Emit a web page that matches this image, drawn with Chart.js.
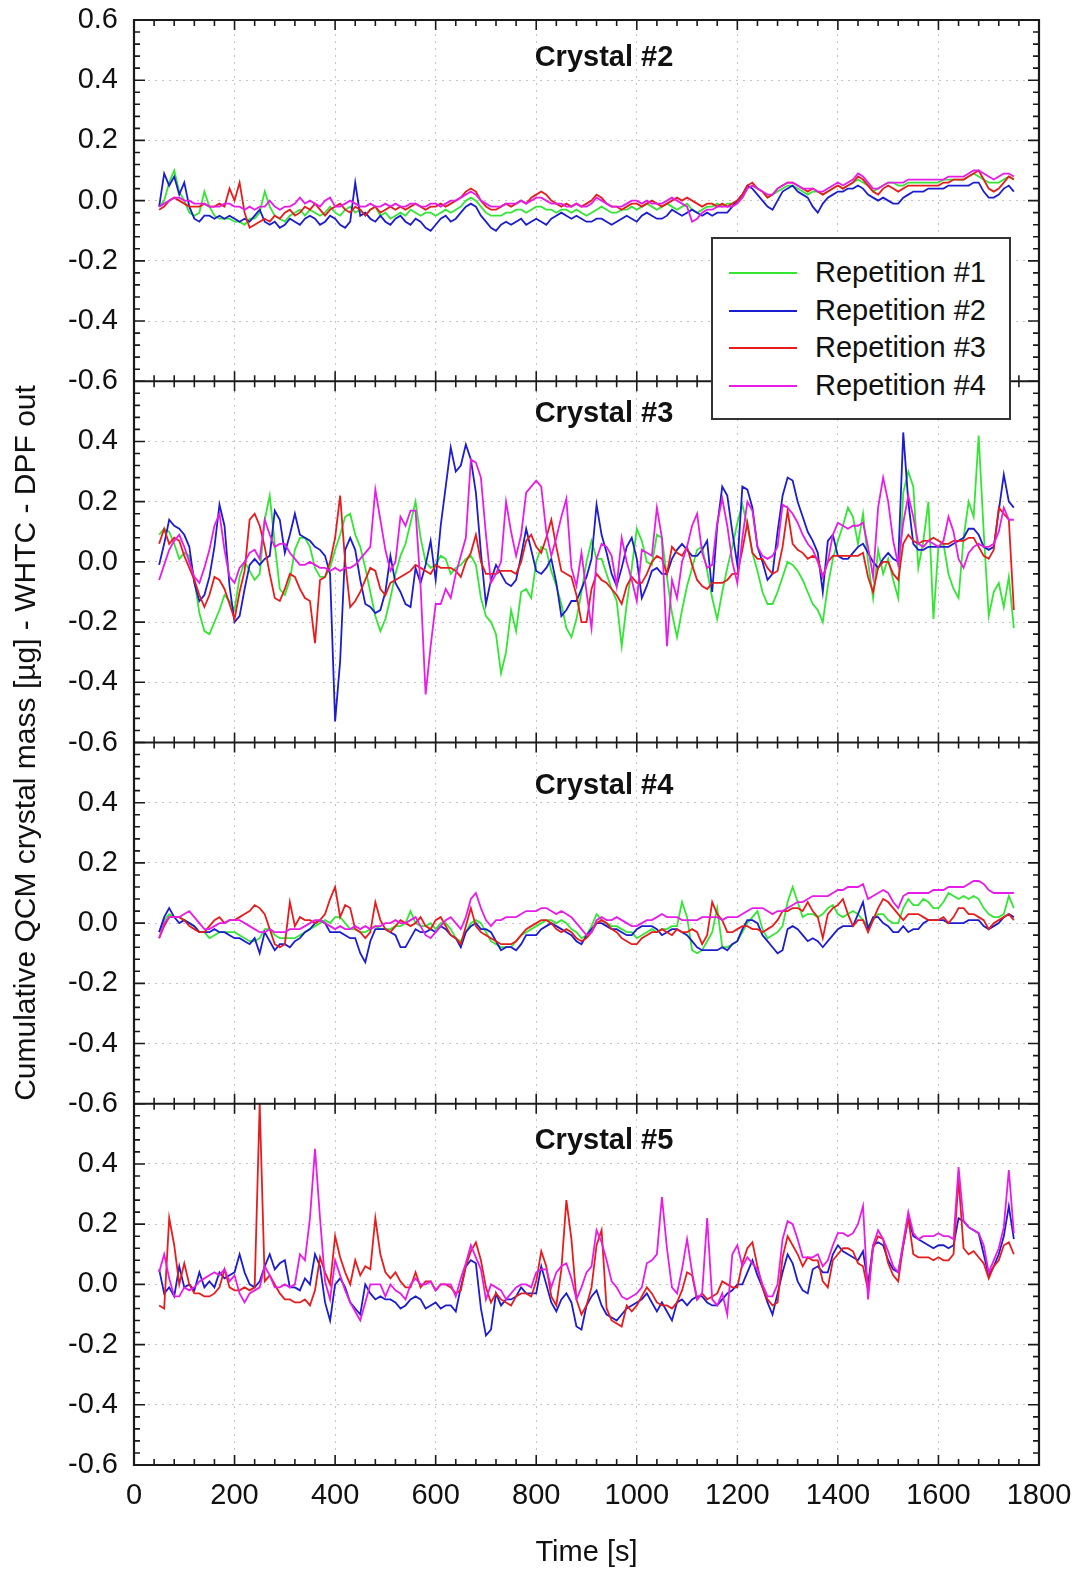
<!DOCTYPE html>
<html>
<head>
<meta charset="utf-8">
<title>Cumulative QCM crystal mass - WHTC - DPF out</title>
<script src="https://cdn.jsdelivr.net/npm/chart.js@4.4.0/dist/chart.umd.min.js"></script>
<style>
  html, body { margin:0; padding:0; background:#fff; }
  #wrap { position:relative; width:1080px; height:1574px; font-family:'Liberation Sans', Arial, sans-serif; color:#111; }
  #chart { position:absolute; left:0; top:0; }
  #ytitle { position:absolute; left:-475px; top:726px; width:1000px; height:34px; line-height:34px;
            text-align:center; font-size:30px; white-space:nowrap; transform:rotate(-90deg); }
  #legend { position:absolute; left:711px; top:237px; width:300px; height:183px; box-sizing:border-box;
            border:2px solid #333; background:#fff; padding-top:15px; }
  .row { position:relative; height:37.5px; }
  .row .swatch { position:absolute; left:16px; top:18px; width:68px; height:2px; }
  .row .lab { position:absolute; left:102px; top:0; line-height:37.5px; font-size:29px; white-space:nowrap; }
</style>
</head>
<body>
<div id="wrap">
  <canvas id="chart" width="1080" height="1574"></canvas>
  <div id="ytitle">Cumulative QCM crystal mass [µg] - WHTC - DPF out</div>
  <div id="legend"></div>
</div>
<script>
// time axis [s]
const T = [
  50,60,70,80,90,100,110,120,130,140,150,160,170,180,190,200,210,220,230,240,
  250,260,270,280,290,300,310,320,330,340,350,360,370,380,390,400,410,420,430,440,
  450,460,470,480,490,500,510,520,530,540,550,560,570,580,590,600,610,620,630,640,
  650,660,670,680,690,700,710,720,730,740,750,760,770,780,790,800,810,820,830,840,
  850,860,870,880,890,900,910,920,930,940,950,960,970,980,990,1000,1010,1020,1030,1040,
  1050,1060,1070,1080,1090,1100,1110,1120,1130,1140,1150,1160,1170,1180,1190,1200,1210,1220,1230,1240,
  1250,1260,1270,1280,1290,1300,1310,1320,1330,1340,1350,1360,1370,1380,1390,1400,1410,1420,1430,1440,
  1450,1460,1470,1480,1490,1500,1510,1520,1530,1540,1550,1560,1570,1580,1590,1600,1610,1620,1630,1640,
  1650,1660,1670,1680,1690,1700,1710,1720,1730,1740,1750
];

const SERIES_NAMES = ['Repetition #1', 'Repetition #2', 'Repetition #3', 'Repetition #4'];
const SERIES_COLORS = ['#33e633', '#1c1cd0', '#e81c1c', '#e81ce8'];
const PANEL_TITLES = ['Crystal #2', 'Crystal #3', 'Crystal #4', 'Crystal #5'];

// Crystal #2
const G2 = [
  -0.02,0.00,0.06,0.10,0.03,0.00,-0.04,-0.05,-0.04,0.03,-0.02,-0.05,-0.06,-0.06,-0.06,-0.07,-0.07,-0.08,-0.06,-0.06,
  -0.04,0.03,-0.02,-0.05,-0.06,-0.07,-0.05,-0.04,-0.03,-0.05,-0.03,-0.04,-0.05,-0.04,-0.02,-0.04,-0.05,-0.03,-0.02,-0.04,
  -0.03,-0.05,-0.03,-0.02,-0.05,-0.04,-0.06,-0.05,-0.04,-0.05,-0.03,-0.04,-0.05,-0.04,-0.04,-0.05,-0.04,-0.03,-0.04,-0.03,
  -0.02,0.00,0.01,0.00,-0.02,-0.04,-0.05,-0.05,-0.05,-0.04,-0.04,-0.03,-0.03,-0.04,-0.03,-0.02,-0.02,-0.03,-0.03,-0.04,
  -0.03,-0.03,-0.04,-0.03,-0.04,-0.05,-0.04,-0.03,-0.02,-0.03,-0.04,-0.04,-0.03,-0.03,-0.02,-0.03,-0.02,-0.01,-0.02,-0.03,
  -0.02,-0.01,-0.02,-0.03,-0.02,-0.01,-0.03,-0.04,-0.03,-0.02,-0.02,-0.01,-0.02,-0.01,-0.01,0.00,0.01,0.04,0.05,0.04,
  0.03,0.01,0.02,0.03,0.04,0.05,0.05,0.04,0.03,0.02,0.03,0.03,0.02,0.03,0.04,0.05,0.04,0.05,0.06,0.07,
  0.06,0.05,0.03,0.04,0.05,0.06,0.06,0.05,0.05,0.06,0.06,0.06,0.06,0.06,0.06,0.06,0.07,0.07,0.07,0.07,
  0.07,0.08,0.09,0.08,0.07,0.06,0.06,0.06,0.07,0.08,0.07
];
const B2 = [
  -0.02,0.09,0.05,0.08,0.02,0.06,-0.02,-0.06,-0.07,-0.05,-0.05,-0.06,-0.05,-0.06,-0.05,-0.06,-0.07,-0.06,-0.07,-0.05,
  -0.03,-0.07,-0.08,-0.07,-0.09,-0.08,-0.06,-0.07,-0.08,-0.06,-0.05,-0.06,-0.08,-0.07,-0.05,-0.06,-0.08,-0.09,-0.07,0.06,
  -0.05,-0.04,-0.06,-0.07,-0.05,-0.07,-0.08,-0.06,-0.05,-0.07,-0.08,-0.06,-0.07,-0.09,-0.10,-0.08,-0.06,-0.05,-0.07,-0.06,
  -0.04,-0.02,-0.01,-0.02,-0.05,-0.07,-0.09,-0.10,-0.08,-0.07,-0.08,-0.07,-0.06,-0.08,-0.07,-0.06,-0.07,-0.08,-0.06,-0.05,
  -0.04,-0.05,-0.06,-0.05,-0.06,-0.07,-0.07,-0.06,-0.06,-0.07,-0.08,-0.07,-0.06,-0.05,-0.06,-0.07,-0.05,-0.04,-0.05,-0.06,
  -0.06,-0.05,-0.03,-0.04,-0.05,-0.04,-0.03,-0.04,-0.05,-0.04,-0.05,-0.04,-0.04,-0.04,-0.02,0.00,0.02,0.05,0.04,0.02,
  0.00,-0.02,-0.03,0.00,0.03,0.04,0.05,0.03,0.02,0.01,-0.02,-0.04,-0.01,0.01,0.02,0.03,0.03,0.04,0.04,0.05,
  0.04,0.02,0.01,0.00,0.01,0.00,-0.01,-0.01,0.01,0.02,0.03,0.03,0.03,0.04,0.04,0.04,0.04,0.05,0.05,0.05,
  0.05,0.05,0.06,0.06,0.03,0.01,0.01,0.02,0.04,0.05,0.03
];
const R2 = [
  -0.03,-0.02,0.00,0.01,0.00,-0.01,-0.02,-0.02,-0.02,-0.01,-0.02,-0.02,-0.01,-0.02,0.04,0.00,0.06,-0.04,-0.09,-0.08,
  -0.07,-0.06,-0.07,-0.05,-0.06,-0.04,-0.03,-0.05,-0.04,-0.02,-0.03,-0.01,-0.03,-0.05,-0.03,-0.02,-0.01,-0.03,-0.04,-0.02,
  -0.03,-0.05,-0.03,-0.02,-0.04,-0.03,-0.02,-0.03,-0.02,-0.03,-0.02,-0.01,-0.02,-0.03,-0.02,-0.02,-0.01,-0.02,-0.01,0.00,
  0.01,0.03,0.04,0.03,0.00,-0.02,-0.03,-0.03,-0.02,-0.01,-0.02,-0.01,0.00,-0.01,0.01,0.02,0.03,0.02,0.00,-0.01,
  -0.02,-0.01,-0.02,-0.01,-0.02,-0.01,0.00,0.02,0.01,-0.01,-0.02,-0.02,-0.03,-0.02,-0.01,-0.01,-0.02,-0.01,0.00,-0.01,
  -0.02,-0.01,0.00,0.01,0.00,0.01,0.00,-0.01,-0.02,-0.01,-0.01,-0.02,-0.01,-0.02,-0.01,0.00,0.02,0.05,0.06,0.04,
  0.03,0.01,0.02,0.04,0.05,0.06,0.06,0.05,0.04,0.03,0.04,0.03,0.02,0.03,0.04,0.05,0.04,0.05,0.06,0.08,
  0.07,0.05,0.03,0.02,0.04,0.05,0.04,0.03,0.04,0.05,0.05,0.05,0.05,0.05,0.05,0.05,0.06,0.06,0.07,0.07,
  0.07,0.08,0.09,0.10,0.07,0.04,0.03,0.04,0.06,0.08,0.07
];
const M2 = [
  -0.02,-0.01,0.00,0.01,0.01,0.00,0.00,-0.01,-0.01,-0.01,-0.02,-0.02,-0.02,-0.01,-0.01,-0.02,-0.02,-0.03,-0.02,-0.03,
  -0.02,-0.02,0.00,-0.02,-0.03,-0.02,-0.02,-0.01,0.01,-0.01,0.00,-0.01,-0.02,0.00,0.01,-0.02,-0.02,-0.01,0.00,-0.01,
  -0.02,-0.02,-0.01,-0.02,-0.02,-0.01,-0.02,-0.01,-0.02,-0.02,-0.01,-0.01,-0.02,-0.02,-0.01,-0.01,-0.02,-0.01,0.00,0.00,
  0.01,0.02,0.03,0.02,0.00,-0.01,-0.02,-0.02,-0.02,-0.01,-0.01,-0.01,0.00,-0.01,0.00,0.01,0.01,0.00,-0.01,-0.01,
  -0.01,-0.02,-0.02,-0.01,-0.02,-0.02,-0.01,0.01,0.00,-0.01,-0.02,-0.02,-0.02,-0.01,0.00,0.00,-0.01,0.00,-0.01,-0.01,
  -0.01,0.00,0.01,0.00,-0.01,-0.02,-0.07,-0.06,-0.04,-0.03,-0.03,-0.02,-0.02,-0.02,-0.02,-0.01,0.01,0.04,0.05,0.04,
  0.03,0.02,0.02,0.04,0.05,0.06,0.06,0.05,0.04,0.04,0.04,0.03,0.03,0.04,0.05,0.06,0.05,0.06,0.07,0.09,
  0.08,0.06,0.04,0.04,0.05,0.06,0.06,0.06,0.06,0.07,0.07,0.07,0.07,0.07,0.07,0.07,0.07,0.08,0.08,0.08,
  0.08,0.09,0.10,0.10,0.09,0.08,0.07,0.08,0.09,0.09,0.08
];

// Crystal #3
const G3 = [
  0.09,0.11,0.10,0.06,0.01,0.03,0.02,-0.06,-0.17,-0.23,-0.24,-0.20,-0.16,-0.11,-0.13,-0.16,-0.05,0.00,-0.03,-0.06,
  -0.04,0.14,0.22,0.06,-0.09,-0.11,-0.06,0.04,0.08,0.08,0.05,-0.02,-0.05,-0.05,-0.02,0.04,0.09,0.15,0.16,0.09,
  0.05,-0.02,-0.10,-0.18,-0.23,-0.19,-0.12,-0.04,0.02,0.06,0.13,0.20,0.08,0.00,-0.02,-0.01,0.02,0.01,-0.04,-0.02,
  -0.01,0.01,0.02,-0.01,-0.12,-0.18,-0.20,-0.24,-0.37,-0.30,-0.16,-0.23,-0.10,-0.09,-0.12,0.00,0.05,0.04,-0.03,-0.08,
  -0.14,-0.22,-0.25,-0.19,-0.10,0.00,0.07,0.01,0.01,-0.04,-0.09,-0.13,-0.28,-0.14,-0.02,0.11,0.07,0.00,-0.01,0.09,
  0.08,-0.05,-0.17,-0.25,-0.16,-0.08,-0.02,0.04,0.05,-0.03,-0.12,-0.19,-0.10,-0.02,0.05,0.13,0.19,0.12,0.03,-0.03,
  -0.10,-0.14,-0.14,-0.10,-0.05,0.00,-0.01,-0.03,-0.06,-0.10,-0.14,-0.16,-0.20,-0.08,0.01,0.07,0.12,0.18,0.15,0.06,
  0.16,0.00,-0.12,0.04,-0.04,0.01,-0.06,-0.12,0.23,0.30,0.25,-0.02,0.07,0.20,-0.19,0.05,0.06,-0.04,-0.09,-0.12,
  0.08,0.20,0.15,0.42,0.10,-0.18,-0.10,-0.07,-0.15,-0.05,-0.22
];
const B3 = [
  -0.01,0.06,0.14,0.12,0.11,0.09,0.05,-0.07,-0.13,-0.11,-0.05,0.05,0.19,0.12,-0.08,-0.20,-0.18,-0.09,-0.01,0.01,
  -0.01,0.01,0.02,0.17,0.14,0.03,0.09,0.16,0.09,0.08,0.07,0.05,0.04,0.02,-0.04,-0.53,-0.33,0.04,0.08,0.04,
  -0.06,-0.14,-0.15,-0.17,-0.16,-0.10,0.02,-0.07,-0.10,-0.14,-0.15,-0.02,-0.07,-0.01,0.07,-0.06,0.12,0.25,0.38,0.30,
  0.32,0.39,0.34,0.23,0.03,-0.14,-0.06,-0.01,-0.04,-0.07,-0.08,-0.06,0.02,0.11,0.04,-0.03,-0.04,-0.02,0.01,-0.07,
  -0.18,-0.16,-0.13,-0.13,-0.09,-0.05,0.01,0.19,0.09,0.03,-0.04,-0.08,-0.02,0.05,0.08,0.01,-0.12,-0.08,-0.03,-0.02,
  -0.04,-0.04,0.01,0.04,0.06,0.04,0.02,0.02,0.04,0.07,-0.10,0.12,0.25,0.22,0.10,-0.01,0.25,0.24,0.18,0.05,
  0.00,-0.06,-0.04,0.10,0.22,0.28,0.27,0.20,0.15,0.10,0.07,0.03,-0.10,0.07,0.09,0.02,0.01,0.01,0.03,0.05,
  0.06,0.03,0.00,-0.02,0.01,0.03,0.01,0.00,0.43,0.20,0.06,0.04,0.04,0.05,0.05,0.05,0.05,0.05,0.06,0.07,
  0.08,0.11,0.11,0.09,0.05,0.04,0.05,0.17,0.29,0.20,0.18
];
const R3 = [
  0.06,0.11,0.06,0.08,0.07,0.02,-0.02,-0.06,-0.11,-0.15,-0.11,-0.05,-0.06,-0.09,-0.14,-0.19,-0.10,-0.03,0.14,0.16,
  0.12,0.05,-0.04,-0.12,-0.13,-0.09,-0.04,-0.05,-0.09,-0.12,-0.13,-0.27,-0.06,-0.05,0.00,0.08,0.22,0.00,-0.15,-0.13,
  -0.10,-0.06,-0.02,-0.03,-0.09,-0.11,-0.07,-0.06,-0.05,-0.04,-0.03,-0.01,-0.02,-0.03,-0.04,-0.01,-0.02,-0.02,-0.02,-0.03,
  -0.05,0.00,0.03,0.09,0.00,-0.04,-0.04,-0.04,-0.03,-0.03,-0.03,-0.04,0.00,0.07,0.09,0.05,0.03,0.08,0.14,0.05,
  -0.03,-0.04,-0.05,-0.11,-0.20,-0.20,-0.09,-0.04,-0.06,-0.07,-0.09,-0.11,-0.14,-0.08,-0.05,-0.07,-0.07,-0.04,0.00,0.02,
  0.01,-0.04,0.05,0.03,0.02,0.05,-0.01,-0.06,-0.08,-0.09,-0.07,-0.07,-0.07,-0.06,-0.04,-0.04,0.04,0.13,0.03,0.01,
  0.01,-0.02,-0.04,-0.03,0.05,0.17,0.06,0.04,0.03,0.01,0.02,0.01,-0.05,0.00,0.02,0.02,0.02,0.02,0.02,0.02,
  0.03,-0.05,-0.10,-0.02,0.00,0.00,-0.04,-0.06,0.06,0.09,0.07,0.06,0.07,0.07,0.08,0.07,0.06,0.06,0.07,0.07,
  0.07,0.08,0.08,0.05,0.02,0.01,0.04,0.18,0.16,0.14,-0.16
];
const M3 = [
  -0.06,-0.01,0.04,0.07,0.09,0.05,0.00,-0.05,-0.07,-0.02,0.04,0.12,0.16,0.04,-0.05,-0.07,-0.02,0.00,0.03,0.04,
  0.01,0.14,0.09,0.05,0.06,0.06,0.03,0.01,-0.01,-0.01,0.00,-0.01,-0.02,-0.02,-0.03,-0.02,-0.03,-0.02,-0.02,-0.01,
  0.01,0.03,0.05,0.24,0.14,0.04,-0.03,0.00,0.15,0.12,0.17,0.17,-0.08,-0.44,-0.28,-0.14,-0.14,-0.09,-0.12,-0.04,
  0.02,0.08,0.34,0.33,0.28,0.09,-0.07,-0.04,0.00,0.20,0.10,0.02,0.09,0.23,0.25,0.27,0.25,0.10,0.02,0.08,
  0.15,0.21,-0.02,-0.08,0.03,-0.10,-0.22,0.01,0.06,0.05,0.02,-0.08,0.08,0.00,-0.06,-0.13,0.04,0.03,0.02,0.18,
  0.08,-0.28,-0.06,-0.12,0.00,0.05,0.12,0.16,0.03,-0.02,-0.01,0.13,0.21,0.12,0.00,-0.07,0.08,0.20,0.17,0.05,
  0.02,0.01,0.02,0.05,0.19,0.18,0.16,0.13,0.09,0.06,0.04,0.00,-0.05,0.00,0.09,0.13,0.12,0.11,0.12,0.12,
  0.13,0.05,-0.05,0.18,0.28,0.20,0.07,-0.01,0.13,0.22,0.15,0.06,0.05,0.07,0.06,0.05,0.07,0.15,0.10,0.01,
  -0.02,0.03,0.05,0.06,0.05,0.05,0.06,0.10,0.18,0.14,0.14
];

// Crystal #4
const G4 = [
  -0.03,0.01,0.03,0.02,0.02,0.01,0.00,-0.01,-0.03,-0.03,-0.05,-0.04,-0.03,-0.03,-0.03,-0.03,-0.04,-0.05,-0.06,-0.06,
  -0.05,-0.02,-0.02,-0.04,-0.05,-0.05,-0.05,-0.05,-0.04,-0.03,-0.02,-0.01,0.00,0.01,0.00,0.02,0.02,0.00,-0.02,-0.02,
  -0.03,-0.03,-0.02,-0.01,-0.02,-0.02,-0.02,-0.01,-0.01,0.00,0.04,0.00,-0.01,-0.01,0.00,-0.02,0.00,0.00,-0.02,-0.05,
  -0.06,-0.03,0.00,0.01,0.00,-0.03,-0.06,-0.07,-0.08,-0.08,-0.08,-0.06,-0.04,-0.03,-0.02,-0.01,0.00,0.01,0.01,0.00,
  0.01,0.00,-0.02,-0.03,-0.05,-0.04,-0.01,0.03,0.01,0.00,-0.01,-0.01,-0.02,-0.03,-0.03,-0.05,-0.04,-0.03,-0.02,-0.03,
  -0.02,-0.02,-0.01,-0.01,0.07,0.02,-0.09,-0.10,-0.09,-0.06,-0.03,0.05,-0.08,-0.08,-0.07,-0.06,-0.03,0.00,0.02,0.04,
  -0.02,-0.05,-0.04,-0.03,-0.01,0.07,0.12,0.07,0.02,0.03,0.03,0.02,0.03,0.05,0.06,0.03,0.02,0.03,0.04,0.03,
  0.01,-0.01,0.01,0.03,0.03,0.01,0.00,0.00,0.05,0.08,0.06,0.06,0.08,0.07,0.05,0.05,0.07,0.10,0.09,0.08,
  0.09,0.08,0.09,0.08,0.05,0.03,0.02,0.02,0.03,0.09,0.05
];
const B4 = [
  -0.03,0.02,0.05,0.02,0.00,0.01,0.00,-0.01,-0.03,-0.03,-0.03,-0.02,-0.03,-0.03,-0.04,-0.05,-0.05,-0.06,-0.07,-0.05,
  -0.10,-0.03,-0.06,-0.09,-0.07,-0.07,-0.08,-0.06,-0.05,-0.03,-0.02,0.00,0.01,0.00,-0.03,-0.03,-0.03,-0.04,-0.05,-0.05,
  -0.10,-0.13,-0.06,-0.02,-0.02,-0.02,-0.03,-0.04,-0.08,-0.08,-0.05,-0.02,-0.03,-0.03,-0.02,-0.03,-0.01,-0.02,-0.04,-0.05,
  -0.08,-0.03,-0.01,0.00,-0.02,-0.02,-0.03,-0.06,-0.09,-0.08,-0.08,-0.09,-0.07,-0.04,-0.04,-0.04,-0.02,-0.01,0.00,-0.01,
  -0.02,-0.03,-0.04,-0.06,-0.07,-0.04,-0.02,0.00,0.00,-0.01,-0.02,-0.02,-0.03,-0.04,-0.04,-0.02,-0.01,-0.01,-0.01,-0.02,
  -0.04,-0.03,-0.02,-0.02,-0.03,-0.04,-0.06,-0.08,-0.09,-0.09,-0.09,-0.09,-0.08,-0.09,-0.07,-0.06,-0.02,0.01,0.01,0.00,
  -0.04,-0.06,-0.08,-0.10,-0.09,-0.02,-0.01,-0.02,-0.04,-0.06,-0.05,-0.06,-0.08,-0.06,-0.04,-0.02,-0.01,-0.01,-0.01,0.03,
  0.07,-0.02,0.02,0.02,0.00,-0.01,-0.03,-0.03,-0.01,-0.03,-0.02,-0.02,0.00,0.01,0.01,0.01,0.01,0.00,0.00,0.00,
  0.00,0.01,0.01,0.01,-0.01,-0.02,-0.01,0.00,0.02,0.03,0.02
];
const R4 = [
  -0.05,-0.01,0.02,0.02,0.02,0.01,-0.01,-0.02,-0.03,-0.03,-0.01,0.01,0.02,0.00,0.01,0.01,0.02,0.03,0.04,0.06,
  0.05,0.03,-0.02,-0.07,-0.08,-0.07,0.07,-0.01,0.02,0.01,0.01,0.00,0.01,0.03,0.08,0.12,0.02,0.06,0.05,-0.02,
  -0.03,-0.05,-0.03,0.07,0.01,-0.02,-0.03,-0.01,0.01,0.00,-0.01,0.00,0.02,-0.01,-0.02,0.01,0.02,-0.01,-0.04,-0.05,
  -0.07,-0.01,0.05,-0.01,-0.03,-0.04,-0.05,-0.06,-0.07,-0.07,-0.07,-0.06,-0.04,-0.02,-0.01,0.00,0.01,0.01,0.00,-0.02,
  -0.03,-0.02,-0.03,-0.05,-0.06,-0.05,-0.03,0.00,0.01,0.00,-0.02,-0.03,-0.05,-0.06,-0.07,-0.07,-0.05,-0.04,-0.03,-0.03,
  -0.02,-0.03,-0.04,-0.02,-0.03,-0.03,-0.02,-0.03,-0.07,-0.04,0.07,0.03,0.01,-0.03,-0.03,-0.02,-0.01,-0.01,-0.02,-0.02,
  -0.03,-0.02,-0.01,0.01,0.04,0.04,0.05,0.05,0.04,0.07,0.04,0.02,-0.05,0.03,0.05,0.06,0.08,0.03,-0.01,0.01,
  0.01,-0.03,0.01,0.05,0.08,0.07,0.05,0.03,0.01,0.03,0.03,0.03,0.02,0.01,0.01,0.01,0.02,0.00,0.02,0.05,
  0.05,0.03,0.03,0.02,0.01,-0.02,0.00,0.01,0.02,0.03,0.01
];
const M4 = [
  -0.05,0.00,0.02,0.02,0.02,0.03,0.04,0.02,0.00,-0.02,-0.02,-0.01,0.00,0.00,0.01,0.01,0.01,0.00,-0.01,-0.02,
  -0.03,-0.03,-0.02,-0.03,-0.03,-0.03,-0.02,-0.02,-0.02,-0.01,0.00,0.01,0.01,0.00,-0.01,-0.02,-0.01,-0.02,-0.02,-0.01,
  -0.02,-0.01,-0.02,-0.01,-0.01,0.00,0.00,0.01,0.00,0.00,0.01,0.02,-0.01,-0.04,-0.05,-0.03,-0.01,0.01,0.02,0.00,
  -0.02,0.02,0.08,0.10,0.05,0.01,-0.01,0.01,0.01,0.02,0.02,0.02,0.03,0.04,0.04,0.04,0.05,0.05,0.04,0.03,
  0.04,0.03,0.02,0.00,-0.02,-0.04,-0.03,0.01,0.02,0.01,0.01,0.02,0.01,0.00,-0.01,-0.01,0.00,0.01,0.01,0.02,
  0.03,0.02,0.02,0.02,0.01,0.01,0.01,0.01,0.02,0.02,0.02,0.02,0.01,0.02,0.02,0.02,0.03,0.04,0.05,0.05,
  0.05,0.04,0.03,0.04,0.04,0.05,0.06,0.07,0.07,0.08,0.09,0.09,0.09,0.09,0.10,0.11,0.11,0.12,0.12,0.12,
  0.13,0.08,0.09,0.10,0.11,0.10,0.07,0.05,0.09,0.10,0.10,0.10,0.10,0.10,0.11,0.11,0.11,0.12,0.12,0.12,
  0.12,0.13,0.14,0.14,0.13,0.11,0.10,0.10,0.10,0.10,0.10
];

// Crystal #5 (no repetition #1 trace)
const B5 = [
  0.05,-0.03,-0.01,-0.04,0.06,-0.01,0.00,-0.02,0.04,-0.01,0.01,-0.01,0.04,0.02,0.03,0.04,0.10,0.04,0.00,-0.01,
  0.01,0.06,0.10,0.05,0.07,0.08,-0.01,-0.01,-0.02,0.02,0.00,0.10,0.06,-0.06,-0.12,0.00,0.02,-0.01,-0.06,-0.08,
  -0.10,0.00,-0.03,-0.05,-0.04,-0.05,-0.05,-0.06,-0.08,-0.07,-0.05,-0.04,-0.05,-0.08,-0.07,-0.06,-0.08,-0.07,-0.07,-0.09,
  -0.01,0.06,0.08,0.07,-0.08,-0.17,-0.15,-0.03,-0.07,-0.05,-0.05,-0.04,-0.01,-0.03,-0.03,-0.03,0.06,0.00,-0.06,-0.09,
  -0.05,-0.03,-0.06,-0.14,-0.15,-0.07,-0.04,-0.02,-0.07,-0.10,-0.11,-0.12,-0.10,-0.08,-0.07,-0.06,-0.05,-0.03,-0.06,-0.09,
  -0.06,-0.09,-0.12,-0.06,-0.05,-0.07,-0.05,-0.04,-0.04,-0.06,-0.07,-0.07,-0.05,-0.03,-0.02,0.00,0.00,0.04,0.08,0.03,
  -0.01,-0.06,-0.10,-0.03,0.04,0.10,0.07,0.01,-0.02,-0.03,0.05,0.06,0.04,0.04,0.10,0.13,0.11,0.10,0.09,0.08,
  0.11,0.00,0.13,0.14,0.13,0.08,0.05,0.04,0.13,0.22,0.16,0.15,0.14,0.13,0.12,0.13,0.13,0.12,0.13,0.22,
  0.21,0.19,0.18,0.17,0.10,0.03,0.06,0.10,0.16,0.26,0.15
];
const R5 = [
  -0.07,-0.08,0.22,0.13,0.00,0.07,0.00,-0.03,-0.03,-0.04,-0.04,-0.03,-0.01,0.05,-0.01,-0.02,-0.02,-0.01,-0.02,-0.01,
  0.60,0.01,0.03,0.00,-0.03,-0.05,-0.05,-0.06,-0.06,-0.05,-0.07,-0.02,0.09,0.04,0.00,0.16,0.09,0.04,0.00,0.08,
  0.03,0.06,0.05,0.22,0.10,0.04,0.02,0.04,0.01,-0.01,-0.01,0.04,-0.01,0.01,0.01,-0.02,0.00,0.00,-0.01,-0.03,
  -0.02,0.06,0.11,0.14,0.08,-0.01,-0.06,-0.03,-0.05,-0.06,-0.07,-0.04,-0.03,-0.03,-0.04,0.01,0.11,0.06,-0.04,-0.07,
  0.05,0.28,0.15,-0.05,-0.10,-0.07,-0.01,0.13,0.18,-0.08,-0.12,-0.13,-0.14,-0.07,-0.09,-0.07,-0.04,-0.01,-0.03,-0.06,
  -0.07,-0.07,-0.08,-0.06,-0.02,0.04,0.03,-0.05,-0.03,-0.05,-0.04,-0.03,0.01,0.00,-0.01,-0.01,0.07,0.12,0.14,0.06,
  -0.01,-0.05,-0.07,-0.06,0.09,0.16,0.13,0.10,0.06,0.09,0.08,0.08,0.01,-0.01,0.08,0.10,0.12,0.12,0.11,0.07,
  0.06,-0.02,0.12,0.16,0.15,0.07,0.03,0.01,0.13,0.22,0.10,0.09,0.09,0.09,0.08,0.09,0.08,0.08,0.10,0.35,
  0.12,0.10,0.11,0.09,0.07,0.02,0.06,0.08,0.13,0.14,0.10
];
const M5 = [
  0.04,0.10,0.02,-0.04,-0.04,-0.01,-0.02,-0.01,0.01,0.02,0.03,0.04,0.03,0.05,0.01,0.03,-0.03,-0.06,-0.03,-0.02,
  -0.01,0.06,0.03,-0.01,-0.01,0.00,-0.01,0.00,0.10,0.08,0.22,0.45,0.22,0.01,-0.05,0.08,0.03,-0.02,-0.06,-0.09,
  -0.12,-0.06,0.00,0.00,0.00,-0.04,0.00,-0.02,-0.03,-0.05,0.00,0.02,0.00,0.00,0.01,-0.02,0.00,0.00,0.00,-0.04,
  0.02,0.07,0.13,0.09,0.05,-0.05,0.00,-0.01,-0.02,-0.05,-0.03,-0.01,0.00,0.00,-0.01,0.04,0.05,0.05,-0.01,0.04,
  0.06,0.07,0.02,-0.05,-0.01,0.04,0.06,0.18,0.14,0.08,0.01,-0.01,-0.04,-0.05,-0.04,-0.03,-0.01,0.07,0.08,0.10,
  0.29,0.12,-0.01,-0.03,0.05,0.15,0.04,-0.05,-0.03,0.22,-0.05,-0.07,-0.03,-0.10,0.10,0.13,0.06,0.09,0.07,0.05,
  0.00,-0.04,-0.04,0.00,0.15,0.21,0.20,0.15,0.09,0.09,0.09,0.10,0.06,0.08,0.13,0.17,0.17,0.16,0.17,0.20,
  0.26,-0.05,0.13,0.18,0.15,0.11,0.06,0.04,0.14,0.24,0.17,0.15,0.16,0.16,0.16,0.17,0.16,0.16,0.15,0.39,
  0.21,0.19,0.18,0.17,0.13,0.04,0.08,0.12,0.19,0.38,0.17
];

const PANEL_DATA = [
  [G2, B2, R2, M2],
  [G3, B3, R3, M3],
  [G4, B4, R4, M4],
  [null, B5, R5, M5]
];

// axis settings
const Y_MIN = -0.6, Y_MAX = 0.6, Y_STEP = 0.2, Y_MINOR = 0.04;
const X_MIN = 0, X_MAX = 1800, X_STEP = 200, X_MINOR = 40;
const FONT = "'Liberation Sans', Arial, sans-serif";
const TITLE_OFFSETS = [38, 33, 43, 37]; // px below each panel top

Chart.defaults.font.family = FONT;
Chart.defaults.color = '#111';

const yIds = PANEL_TITLES.map((_, k) => 'y' + k);

const datasets = [];
PANEL_DATA.forEach((list, k) => {
  list.forEach((vals, s) => {
    if (!vals) return;
    datasets.push({
      label: SERIES_NAMES[s] + ' ' + PANEL_TITLES[k],
      data: vals.map((v, i) => ({x: T[i], y: v})),
      yAxisID: yIds[k],
      borderColor: SERIES_COLORS[s],
      borderWidth: 1.8,
      pointRadius: 0,
      tension: 0,
      fill: false,
      order: 4 - s
    });
  });
});

const scales = {
  x: {
    type: 'linear', min: X_MIN, max: X_MAX,
    ticks: { stepSize: X_STEP, padding: 14, font: {size: 29}, color: '#111', maxRotation: 0, autoSkip: false,
             callback: v => String(v) },
    grid: { color: '#c4c4c4', lineWidth: 1, drawTicks: false },
    border: { display: false, dash: [2, 5] },
    title: { display: true, text: 'Time [s]', font: {size: 29}, color: '#111', padding: {top: 0, bottom: 4} },
    afterFit(s) { s.height = 109; s.paddingLeft = 0; s.paddingRight = 0; }
  }
};
yIds.forEach((id, k) => {
  scales[id] = {
    type: 'linear', position: 'left', stack: 'panels', stackWeight: 1, weight: 10 - k,
    min: Y_MIN, max: Y_MAX,
    ticks: {
      stepSize: Y_STEP, padding: 16, font: {size: 29}, color: '#111', autoSkip: false,
      callback(v) {
        if (k > 0 && v > Y_MAX - 0.01) return '';
        return Math.abs(v) < 1e-9 ? '0.0' : v.toFixed(1);
      }
    },
    grid: { color: '#c4c4c4', lineWidth: 1, drawTicks: false },
    border: { display: false, dash: [2, 5] },
    afterFit(s) { s.width = 134; s.paddingTop = 0; s.paddingBottom = 0; }
  };
});

// frame, inward tick marks and panel titles
const framePlugin = {
  id: 'frame',
  afterDraw(chart) {
    const {ctx, chartArea: a, scales: sc} = chart;
    const sx = sc.x;
    const nY = Math.round((Y_MAX - Y_MIN) / Y_MINOR);
    const nX = Math.round((X_MAX - X_MIN) / X_MINOR);
    const perMajorY = Math.round(Y_STEP / Y_MINOR);
    const perMajorX = Math.round(X_STEP / X_MINOR);
    ctx.save();
    ctx.strokeStyle = '#1a1a1a';
    ctx.lineWidth = 1.6;
    ctx.beginPath();
    yIds.forEach((id, k) => {
      const sy = sc[id];
      for (let i = 0; i <= nY; i++) {
        const y = sy.getPixelForValue(Y_MIN + i * Y_MINOR);
        const len = i % perMajorY === 0 ? 11 : 6;
        ctx.moveTo(a.left, y); ctx.lineTo(a.left + len, y);
        ctx.moveTo(a.right, y); ctx.lineTo(a.right - len, y);
      }
      const yt = sy.top;
      for (let i = 0; i <= nX; i++) {
        const x = sx.getPixelForValue(X_MIN + i * X_MINOR);
        const len = i % perMajorX === 0 ? 10 : 6;
        ctx.moveTo(x, yt - (k ? len : 0)); ctx.lineTo(x, yt + len);
      }
    });
    for (let i = 0; i <= nX; i++) {
      const x = sx.getPixelForValue(X_MIN + i * X_MINOR);
      const len = i % perMajorX === 0 ? 10 : 6;
      ctx.moveTo(x, a.bottom); ctx.lineTo(x, a.bottom - len);
    }
    ctx.stroke();

    ctx.lineWidth = 2.2;
    ctx.beginPath();
    ctx.rect(a.left, a.top, a.right - a.left, a.bottom - a.top);
    yIds.slice(1).forEach(id => {
      const y = sc[id].top;
      ctx.moveTo(a.left, y); ctx.lineTo(a.right, y);
    });
    ctx.stroke();

    ctx.fillStyle = '#111';
    ctx.font = 'bold 29px ' + FONT;
    ctx.textAlign = 'center';
    ctx.textBaseline = 'middle';
    yIds.forEach((id, k) => {
      ctx.fillText(PANEL_TITLES[k], a.left + 470, sc[id].top + TITLE_OFFSETS[k]);
    });
    ctx.restore();
  }
};

new Chart(document.getElementById('chart').getContext('2d'), {
  type: 'line',
  data: { datasets },
  options: {
    responsive: false,
    animation: false,
    events: [],
    layout: { padding: { left: 0, right: 41, top: 20, bottom: 0 } },
    scales,
    plugins: { legend: { display: false }, tooltip: { enabled: false } }
  },
  plugins: [framePlugin]
});

// legend box
const legend = document.getElementById('legend');
SERIES_NAMES.forEach((name, s) => {
  const row = document.createElement('div');
  row.className = 'row';
  row.innerHTML = `<div class="swatch" style="background:${SERIES_COLORS[s]}"></div><div class="lab">${name}</div>`;
  legend.appendChild(row);
});
</script>
</body>
</html>
